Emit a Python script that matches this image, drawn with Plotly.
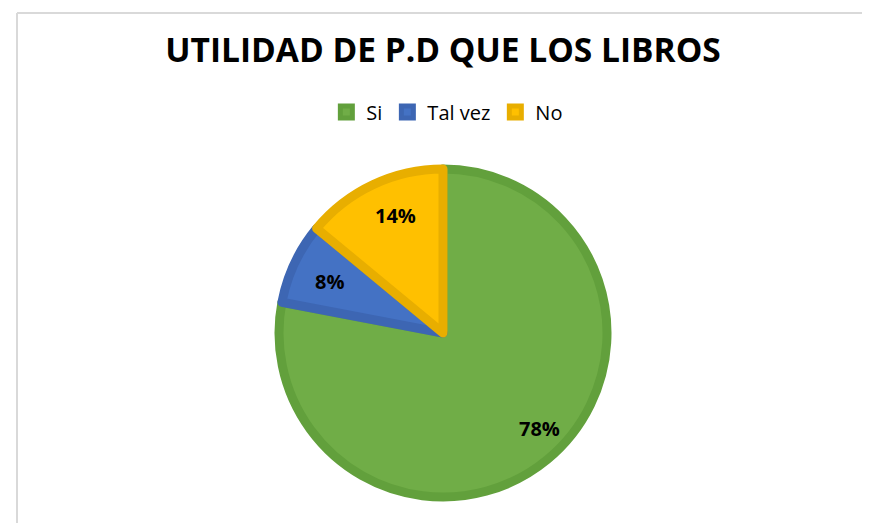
import math
import plotly.graph_objects as go

labels = ["Si", "Tal vez", "No"]
values = [78, 8, 14]
fill_colors = ["#70AD47", "#4472C4", "#FFC000"]
edge_colors = ["#62A03C", "#3D66B3", "#E8AE00"]

W, H = 870, 523

# pie placement (pixels)
CX, CY, R = 445, 331, 164
# plotly draws the pie a little right/below the domain centre, compensate
SHIFT_X, SHIFT_Y = -10, -6
dom_x = [(CX + SHIFT_X - R) / W, (CX + SHIFT_X + R) / W]
dom_y = [1 - (CY + SHIFT_Y + R) / H, 1 - (CY + SHIFT_Y - R) / H]

fig = go.Figure()

fig.add_trace(go.Pie(
    labels=labels,
    values=values,
    sort=False,
    direction="clockwise",
    rotation=0,
    marker=dict(colors=fill_colors, line=dict(color=edge_colors, width=9)),
    textinfo="none",
    hoverinfo="label+percent",
    domain=dict(x=dom_x, y=dom_y),
))

# percentage labels, placed along each slice's mid-angle like Excel does
total = sum(values)
start = 0.0
for lab, v in zip(labels, values):
    mid = (start + v / 2) / total * 2 * math.pi
    start += v
    px = CX + 0.83 * R * math.sin(mid)
    py = CY - 0.83 * R * math.cos(mid)
    fig.add_annotation(x=px / W, y=1 - py / H, xref="paper", yref="paper",
                       text=f"<b>{round(100 * v / total)}%</b>", showarrow=False,
                       font=dict(family="Open Sans", size=20, color="black"))

# thin chart-area frame (top and left edges visible)
fig.add_shape(type="line", xref="paper", yref="paper",
              x0=9 / W, x1=1.0, y0=1 - 5 / H, y1=1 - 5 / H,
              line=dict(color="#D9D9D9", width=2))
fig.add_shape(type="line", xref="paper", yref="paper",
              x0=9 / W, x1=9 / W, y0=0, y1=1 - 5 / H,
              line=dict(color="#D9D9D9", width=2))

fig.update_layout(
    width=W, height=H,
    margin=dict(l=0, r=0, t=0, b=0),
    paper_bgcolor="white",
    plot_bgcolor="white",
    title=dict(text="<b>UTILIDAD DE P.D QUE LOS LIBROS</b>",
               x=0.5, xanchor="center", y=1 - 42 / H, yanchor="middle",
               font=dict(family="Open Sans", size=33.5, color="black")),
    legend=dict(orientation="h", x=0.505, xanchor="center",
                y=1 - 104 / H, yanchor="middle",
                font=dict(family="Open Sans", size=20, color="black"),
                itemwidth=30, traceorder="normal"),
    showlegend=True,
)

fig.write_html("out.html")
